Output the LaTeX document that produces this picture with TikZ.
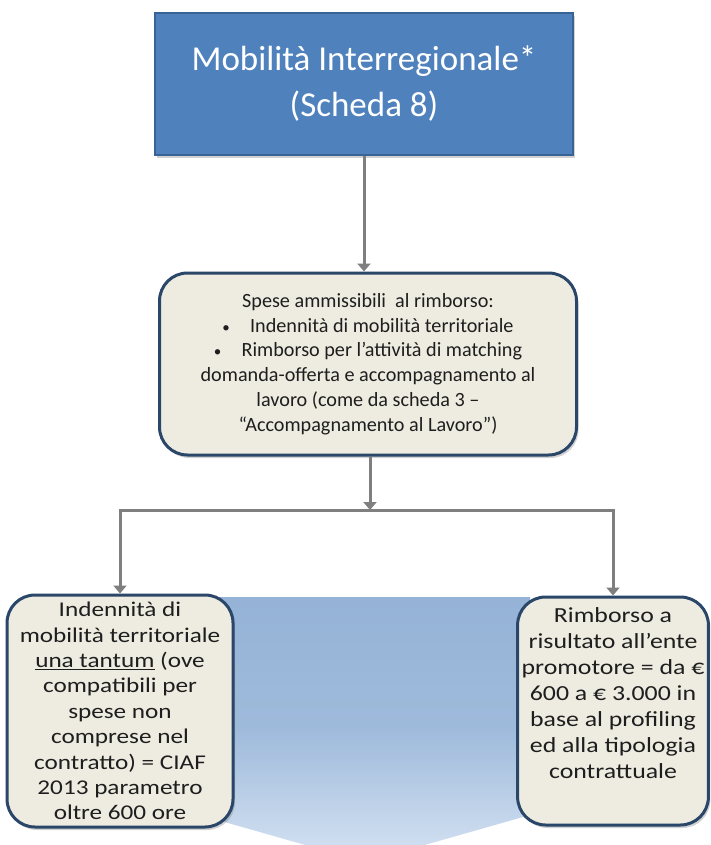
\documentclass[tikz,border=0pt]{standalone}
\usepackage{fontspec}
\setmainfont{Carlito}
\newfontfamily\widecarlito[FakeStretch=1.2]{Carlito}
\newcommand{\listdot}{{\fontsize{15}{15}\selectfont\textbullet}\quad}
\usetikzlibrary{arrows.meta,shadows}
\definecolor{titleblue}{HTML}{4F81BD}
\definecolor{titleedge}{HTML}{3A6395}
\definecolor{boxfill}{HTML}{EEECE1}
\definecolor{boxedge}{HTML}{2A4668}
\definecolor{boxtext}{HTML}{1E1E1E}
\definecolor{linkgray}{HTML}{7F7F7F}
\definecolor{bandtop}{HTML}{95B3D7}
\definecolor{bandbottom}{HTML}{D6E3F3}
\begin{document}
\begin{tikzpicture}[x=1pt,y=-1pt,
  titlebox/.style={draw=titleedge,line width=2pt,fill=titleblue,text=white,align=center,
    font=\fontsize{35}{46}\selectfont,
    drop shadow={opacity=0.35,shadow xshift=2pt,shadow yshift=-3pt}},
  infobox/.style={draw=boxedge,line width=3pt,fill=boxfill,rounded corners=28pt,
    align=center,text=boxtext,inner sep=4pt,
    drop shadow={opacity=0.35,shadow xshift=2pt,shadow yshift=-3pt}},
  linkline/.style={draw=linkgray,line width=3pt,-{Triangle[width=13pt,length=8pt]}}]
\useasboundingbox[fill=white] (0,0) rectangle (710,845);
% band behind the two lower boxes
\shade[top color=bandtop,bottom color=bandbottom,middle color=bandtop!85!bandbottom]
  (200,597) -- (530,597) -- (530,815) -- (365,862) -- (200,815) -- cycle;
% boxes
\node[titlebox,minimum width=418pt,minimum height=142pt] (scheda) at (364,84)
  {Mobilità Interregionale*\\(Scheda 8)};
\node[infobox,minimum width=417pt,minimum height=182pt,
  font=\fontsize{20.2}{24.7}\selectfont] (spese) at (368,364)
  {Spese ammissibili \ al rimborso:\\
   \listdot Indennità di mobilità territoriale\\
   \listdot Rimborso per l’attività di matching\\
   domanda-offerta e accompagnamento al\\
   lavoro (come da scheda 3 –\\
   “Accompagnamento al Lavoro”)};
\node[infobox,minimum width=226pt,minimum height=232pt,
  font=\widecarlito\fontsize{21}{25.4}\selectfont] (indennita) at (120,711)
  {Indennità di\\mobilità territoriale\\\underline{una tantum} (ove\\compatibili per\\
   spese non\\comprese nel\\contratto) = CIAF\\2013 parametro\\oltre 600 ore};
\node[infobox,minimum width=190pt,minimum height=228pt,
  font=\widecarlito\fontsize{21.5}{26}\selectfont] (rimborso) at (613,711)
  {Rimborso a\\risultato all’ente\\promotore = da €\\600 a € 3.000 in\\
   base al profiling\\ed alla tipologia\\contrattuale\\[10pt]\mbox{}};
\coordinate (split) at (370,510);
% connectors
\draw[linkline] (scheda.south) -- (scheda.south |- spese.north);
\draw[linkline] (spese.south -| split) -- (split);
\draw[linkline] (split) -| (indennita.north);
\draw[linkline] (split) -| (rimborso.north);
\end{tikzpicture}
\end{document}
